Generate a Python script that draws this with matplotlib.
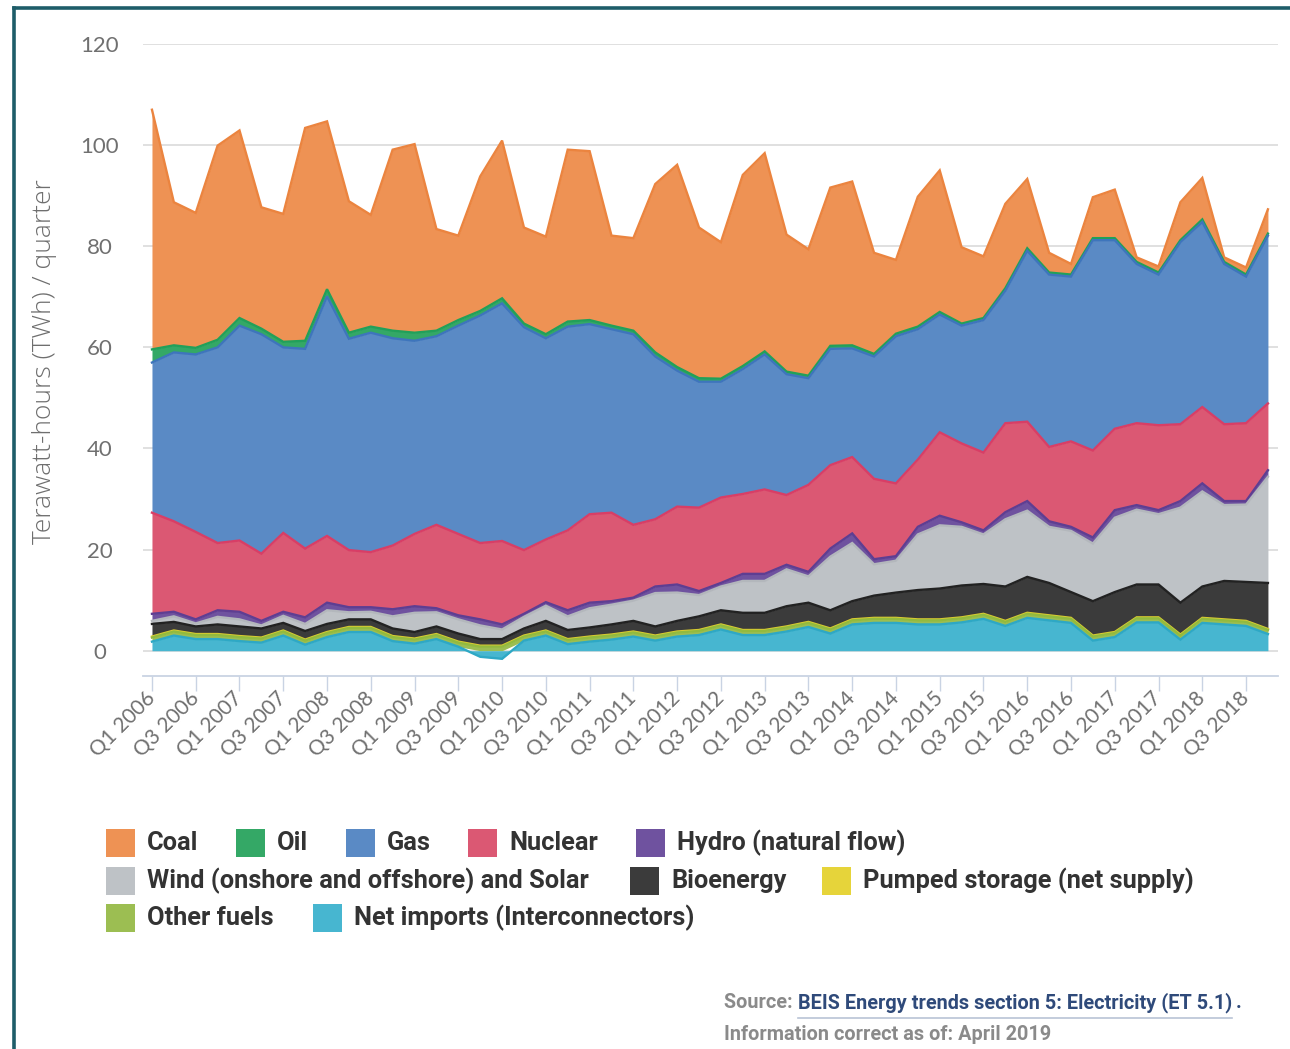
import matplotlib
matplotlib.use("Agg")
import matplotlib.pyplot as plt
import numpy as np
from matplotlib.patches import Rectangle
from matplotlib.lines import Line2D

# ---------------- data (TWh per quarter) ----------------
quarters = [
    "Q1 2006", "Q2 2006", "Q3 2006", "Q4 2006", "Q1 2007", "Q2 2007", "Q3 2007", "Q4 2007",
    "Q1 2008", "Q2 2008", "Q3 2008", "Q4 2008", "Q1 2009", "Q2 2009", "Q3 2009", "Q4 2009",
    "Q1 2010", "Q2 2010", "Q3 2010", "Q4 2010", "Q1 2011", "Q2 2011", "Q3 2011", "Q4 2011",
    "Q1 2012", "Q2 2012", "Q3 2012", "Q4 2012", "Q1 2013", "Q2 2013", "Q3 2013", "Q4 2013",
    "Q1 2014", "Q2 2014", "Q3 2014", "Q4 2014", "Q1 2015", "Q2 2015", "Q3 2015", "Q4 2015",
    "Q1 2016", "Q2 2016", "Q3 2016", "Q4 2016", "Q1 2017", "Q2 2017", "Q3 2017", "Q4 2017",
    "Q1 2018", "Q2 2018", "Q3 2018", "Q4 2018",
]

coal = [47.4, 28.3, 26.7, 38.4, 37.1, 24.0, 25.3, 42.1, 33.2, 26.0,
        22.1, 35.8, 37.3, 20.1, 16.7, 26.6, 31.2, 19.0, 19.3, 34.0,
        33.4, 17.8, 18.3, 33.3, 40.0, 29.8, 27.0, 37.8, 39.2, 27.1,
        25.0, 31.3, 32.4, 20.0, 14.6, 25.7, 28.0, 15.1, 12.2, 16.7,
        13.7, 3.9, 2.1, 8.1, 9.6, 0.9, 1.2, 7.5, 8.2, 0.9,
        1.4, 4.8]
oil = [2.6, 1.4, 1.3, 1.5, 1.5, 1.1, 1.1, 1.6, 1.4, 1.2,
       1.2, 1.5, 1.6, 1.1, 1.1, 0.9, 1.0, 0.7, 0.8, 1.0,
       0.8, 0.7, 0.7, 0.8, 0.7, 0.7, 0.6, 0.6, 0.6, 0.5,
       0.5, 0.6, 0.6, 0.5, 0.5, 0.5, 0.5, 0.4, 0.4, 0.5,
       0.5, 0.4, 0.4, 0.4, 0.4, 0.4, 0.4, 0.4, 0.5, 0.4,
       0.4, 0.4]
gas = [29.7, 33.4, 35.1, 38.7, 42.5, 43.4, 36.7, 39.5, 47.4, 41.8,
       43.4, 41.0, 38.2, 37.3, 41.2, 45.0, 47.0, 44.1, 39.8, 40.3,
       37.6, 36.3, 37.7, 32.2, 26.9, 24.9, 22.9, 24.7, 26.7, 23.9,
       21.1, 23.0, 21.5, 24.2, 29.1, 25.8, 23.3, 23.3, 26.2, 26.2,
       33.8, 34.1, 32.6, 41.6, 37.3, 31.5, 29.8, 36.0, 36.6, 31.7,
       29.0, 33.2]
nuclear = [20.0, 17.9, 17.3, 13.3, 14.1, 13.3, 15.6, 13.6, 13.2, 11.3,
           10.9, 12.6, 14.3, 16.5, 16.1, 15.1, 16.5, 12.6, 12.4, 15.8,
           17.5, 17.5, 14.4, 13.3, 15.4, 16.5, 16.9, 15.8, 16.7, 13.8,
           17.2, 16.5, 15.1, 15.9, 14.4, 13.3, 16.5, 15.6, 15.4, 17.6,
           15.7, 14.7, 16.9, 17.2, 16.1, 16.2, 16.8, 15.2, 15.1, 15.2,
           15.4, 13.2]
hydro = [1.4, 0.9, 0.8, 1.3, 1.5, 0.9, 0.8, 1.3, 1.5, 1.0,
         0.9, 1.4, 1.3, 0.8, 0.8, 1.2, 1.0, 0.6, 0.7, 1.2,
         1.1, 0.7, 0.6, 1.3, 1.6, 0.8, 0.7, 1.4, 1.4, 0.9,
         0.9, 1.6, 1.9, 1.0, 0.9, 1.5, 1.9, 0.9, 0.8, 1.4,
         1.9, 1.1, 0.8, 1.2, 1.5, 0.9, 0.8, 1.3, 1.6, 0.8,
         0.7, 1.3]
wind_solar = [0.6, 1.1, 0.6, 1.5, 1.4, 0.6, 1.4, 1.4, 2.7, 1.4,
              1.5, 2.4, 3.8, 2.8, 2.8, 2.7, 1.9, 2.3, 3.0, 2.7,
              3.8, 3.9, 4.0, 6.6, 5.6, 4.2, 4.7, 6.3, 6.3, 7.3,
              5.2, 10.6, 11.5, 6.2, 6.3, 11.0, 12.5, 11.6, 9.8, 13.3,
              13.1, 11.1, 12.1, 11.4, 14.7, 14.8, 13.9, 18.8, 18.8, 15.0,
              15.3, 21.0]
bioenergy = [2.5, 1.7, 1.5, 1.9, 1.9, 1.8, 1.5, 1.7, 1.6, 1.5,
             1.5, 1.5, 1.3, 1.5, 1.6, 1.3, 1.3, 1.4, 1.9, 1.8,
             1.8, 2.0, 2.1, 1.8, 2.1, 2.7, 2.8, 3.4, 3.4, 4.0,
             3.8, 3.6, 3.6, 4.4, 5.0, 5.8, 6.1, 6.3, 5.9, 6.8,
             7.1, 6.4, 5.1, 6.8, 7.9, 6.5, 6.5, 6.3, 6.2, 7.6,
             7.7, 9.1]
pumped_storage = [0.2, 0.2, 0.2, 0.2, 0.2, 0.2, 0.2, 0.2, 0.2, 0.2,
                  0.2, 0.2, 0.2, 0.2, 0.2, 0.2, 0.2, 0.2, 0.2, 0.2,
                  0.2, 0.2, 0.2, 0.2, 0.2, 0.2, 0.2, 0.2, 0.2, 0.2,
                  0.2, 0.2, 0.2, 0.2, 0.2, 0.2, 0.2, 0.2, 0.2, 0.2,
                  0.2, 0.2, 0.2, 0.2, 0.2, 0.2, 0.2, 0.2, 0.2, 0.2,
                  0.2, 0.2]
other_fuels = [0.8, 0.8, 0.8, 0.8, 0.8, 0.8, 0.8, 0.8, 0.8, 0.8,
               0.8, 0.8, 0.8, 0.8, 0.8, 0.8, 0.8, 0.8, 0.8, 0.8,
               0.8, 0.8, 0.8, 0.8, 0.8, 0.8, 0.8, 0.8, 0.8, 0.8,
               0.8, 0.8, 0.8, 0.8, 0.8, 0.8, 0.8, 0.8, 0.8, 0.8,
               0.8, 0.8, 0.8, 0.8, 0.8, 0.8, 0.8, 0.8, 0.8, 0.8,
               0.8, 0.8]
net_imports = [1.8, 3.0, 2.3, 2.3, 1.9, 1.6, 3.0, 1.2, 2.7, 3.7,
               3.7, 1.9, 1.4, 2.3, 0.8, -1.2, -1.6, 2.0, 3.0, 1.3,
               1.8, 2.2, 2.8, 2.0, 2.8, 3.1, 4.2, 3.1, 3.1, 3.8,
               4.7, 3.4, 5.2, 5.5, 5.5, 5.2, 5.2, 5.6, 6.3, 4.9,
               6.5, 6.0, 5.5, 2.0, 2.7, 5.6, 5.6, 2.2, 5.5, 5.2,
               4.9, 3.3]

series_names = ["Coal", "Oil", "Gas", "Nuclear", "Hydro (natural flow)",
                "Wind (onshore and offshore) and Solar", "Bioenergy",
                "Pumped storage (net supply)", "Other fuels",
                "Net imports (Interconnectors)"]
series_values = [coal, oil, gas, nuclear, hydro, wind_solar, bioenergy,
                 pumped_storage, other_fuels, net_imports]
fill_colors = ["#EE9254", "#34A866", "#5A8AC5", "#DB5873", "#6F529F",
               "#BEC2C6", "#3B3B3B", "#E6D43A", "#9CBE52", "#47B6D0"]
line_colors = ["#EB843F", "#21A05A", "#3E75BC", "#D83E66", "#5E3E92",
               "#B3B7BC", "#222222", "#D9CC30", "#93BA3E", "#2EA8C5"]

yticks = [0, 20, 40, 60, 80, 100, 120]

# ---------------- figure ----------------
W, H = 1290, 1049
fig = plt.figure(figsize=(W / 100, H / 100), dpi=100)
fig.patch.set_facecolor("white")


def fx(px):
    return px / W


def fy(py):
    return 1 - py / H


ax = fig.add_axes([fx(143), fy(676), fx(1278) - fx(143), fy(44) - fy(676)])

n = len(quarters)
x = np.arange(n)

# stacking: bottom -> top is reverse of legend order; negatives stack below zero
pos_base = np.zeros(n)
neg_base = np.zeros(n)
bands = [None] * len(series_values)
for idx in range(len(series_values) - 1, -1, -1):
    v = np.array(series_values[idx], dtype=float)
    base = np.where(v >= 0, pos_base, neg_base)
    top = base + v
    pos_base = np.where(v >= 0, top, pos_base)
    neg_base = np.where(v < 0, top, neg_base)
    bands[idx] = (base, top)

for idx in range(len(series_values)):
    base, top = bands[idx]
    ax.fill_between(x, base, top, color=fill_colors[idx], lw=0, zorder=2 + idx * 0.1)
    ax.plot(x, top, color=line_colors[idx], lw=1.7, zorder=2.05 + idx * 0.1,
            solid_joinstyle="miter")

ax.set_xlim(-0.41, n - 1 + 0.46)
ax.set_ylim(-5, 120)
ax.set_yticks(yticks)
ax.grid(axis="y", color="#DDDDDD", lw=1.3)
ax.set_axisbelow(True)
for s in ["top", "right", "left"]:
    ax.spines[s].set_visible(False)
ax.spines["bottom"].set_color("#C9D3E3")
ax.spines["bottom"].set_linewidth(1.3)

ax.tick_params(axis="y", length=0, pad=31, labelsize=16, labelcolor="#707070")
for lab in ax.get_yticklabels():
    lab.set_family("Lato")
    lab.set_horizontalalignment("center")

tick_pos = x[::2]
ax.set_xticks(tick_pos)
ax.set_xticklabels([quarters[i] for i in tick_pos], rotation=45, ha="right",
                   va="center", rotation_mode="anchor", fontsize=15,
                   color="#707070", family="Lato")
ax.tick_params(axis="x", length=11, width=1, color="#C9D3E3", pad=3)

fig.text(fx(45), fy(362), "Terawatt-hours (TWh) / quarter", rotation=90,
         ha="center", va="center", fontsize=19, color="#6E6E6E", family="Open Sans",
         fontweight="light")

# ---------------- legend (manual, Highcharts style) ----------------
legend_pos = [(106, 843), (236, 843), (346, 843), (468, 843), (636, 843),
              (106, 881), (630, 881), (822, 881),
              (106, 918), (313, 918)]
legend_font = ["Liberation Sans Narrow", "Roboto"]
for name, col, (lx, ly) in zip(series_names, fill_colors, legend_pos):
    fig.patches.append(Rectangle((fx(lx), fy(ly + 14)), fx(29), 28 / H,
                                 transform=fig.transFigure, color=col, lw=0))
    fig.text(fx(lx + 41), fy(ly), name, ha="left", va="center", fontsize=18.3,
             color="#333333", family=legend_font, fontweight="bold")

# ---------------- source ----------------
t1 = fig.text(fx(724), fy(1003), "Source: ", ha="left", va="center", fontsize=14.3,
              color="#8A8A8A", family=legend_font, fontweight="bold")
fig.canvas.draw()
r = fig.canvas.get_renderer()
bb = t1.get_window_extent(r)
lx0 = bb.x1 / W
t2 = fig.text(lx0, fy(1003), "BEIS Energy trends section 5: Electricity (ET 5.1)", ha="left",
              va="center", fontsize=14.3, color="#2F4A7A", family=legend_font, fontweight="bold")
bb2 = t2.get_window_extent(r)
fig.add_artist(Line2D([lx0, bb2.x1 / W], [fy(1018), fy(1018)], transform=fig.transFigure,
                      color="#B9C3D6", lw=1.2))
fig.text(bb2.x1 / W + fx(4), fy(1003), ".", ha="left", va="center", fontsize=14.3,
         color="#2F4A7A", family=legend_font, fontweight="bold")
fig.text(fx(724), fy(1035), "Information correct as of: April 2019", ha="left", va="center",
         fontsize=14.3, color="#8A8A8A", family=legend_font, fontweight="bold")

# ---------------- frame (teal border at top and left) ----------------
fig.add_artist(Line2D([fx(14), fx(14)], [0, fy(8)], transform=fig.transFigure,
                      color="#1E5D69", lw=2.6))
fig.add_artist(Line2D([fx(14), 1], [fy(8), fy(8)], transform=fig.transFigure,
                      color="#1E5D69", lw=2.6))

fig.savefig("out.png", dpi=100, facecolor="white")
